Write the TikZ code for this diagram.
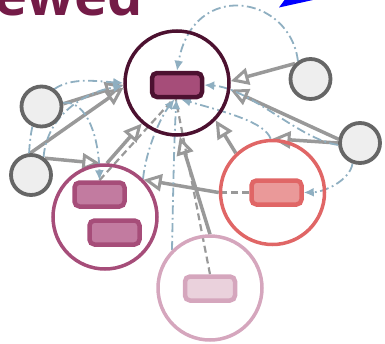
\documentclass[tikz,border=0pt]{standalone}
\usepackage{fontspec}
\newfontfamily\titlefont{Open Sans}
\usetikzlibrary{arrows.meta,backgrounds}
\definecolor{cZline}{HTML}{4C1130}
\definecolor{cZfill}{HTML}{A64D79}
\definecolor{cAline}{HTML}{A64D79}
\definecolor{cAfill}{HTML}{C27BA0}
\definecolor{cBline}{HTML}{E06666}
\definecolor{cBfill}{HTML}{EA9999}
\definecolor{cCline}{HTML}{D5A6BD}
\definecolor{cCfill}{HTML}{EAD1DC}
\definecolor{gfill}{HTML}{EEEEEE}
\definecolor{gline}{HTML}{666666}
\definecolor{agrey}{HTML}{999999}
\definecolor{bline}{HTML}{8FAFC1}
\definecolor{titlec}{HTML}{741B47}
\tikzset{
  smallc/.style={circle,draw=gline,fill=gfill,line width=3.8pt,minimum size=40pt,inner sep=0pt},
  bigc/.style={circle,line width=3.5pt,minimum size=104pt,inner sep=0pt},
  rbox/.style={rectangle,rounded corners=5pt,line width=4.5pt,minimum width=50pt,minimum height=24pt,inner sep=0pt},
  garrow/.style={draw=agrey,line width=3.5pt,-{Triangle[open,length=18pt,width=17pt,line width=3pt]}},
  gdash/.style={draw=agrey,line width=2.2pt,dash pattern=on 7pt off 4pt},
  bdd/.style={draw=bline,line width=1.8pt,dash pattern=on 9pt off 3.5pt on 1.8pt off 3.5pt,-{Latex[length=10pt,width=9pt]}}
}
\begin{document}
\begin{tikzpicture}[x=1pt,y=-1pt]
\useasboundingbox (0,0) rectangle (385,343);
% title
\node[anchor=base west,inner sep=0pt,text=titlec,font=\titlefont\bfseries\fontsize{56}{56}\selectfont] (title) at (-6,15.5) {ewed};
% blue arrow tip, cut off
\fill[blue] (279,7.5) -- (286,-2) -- (322,-2) -- cycle;
% big circles
\node[bigc,draw=cZline] (c0) at (177,83) {};
\node[bigc,draw=cAline] (c1) at (105,217) {};
\node[bigc,draw=cBline] (c2) at (272.5,192.5) {};
\node[bigc,draw=cCline] (c3) at (210,288) {};
% inner boxes
\node[rbox,draw=cZline,fill=cZfill] (c0r) at (177,85) {};
\node[rbox,draw=cAline,fill=cAfill] (c1ra) at (99.5,194.5) {};
\node[rbox,draw=cAline,fill=cAfill] (c1rb) at (114.5,232.5) {};
\node[rbox,draw=cBline,fill=cBfill] (c2r) at (276.5,192.5) {};
\node[rbox,draw=cCline,fill=cCfill] (c3r) at (210,288.5) {};
% small grey circles
\node[smallc] (g1) at (41.5,106.5) {};
\node[smallc] (g2) at (31,175) {};
\node[smallc] (g3) at (310.5,79) {};
\node[smallc] (g4) at (360,143) {};
\begin{pgfonlayer}{background}
% grey dashed (inside links)
\draw[gdash] (c2r.west) -- (c2.180);
\draw[gdash] (c3r.north) -- (c0r.-95);
\draw[gdash] (c1ra.north) -- (c0r.-105);
% grey arrows
\draw[garrow] (g1.7) -- (c0.182);
\draw[garrow] (g2.92) -- (c0.185);
\draw[garrow] (g2.50) -- (c1.95);
\draw[garrow] (c1.88) -- (c0.229);
\draw[garrow] (c3.90) -- (c0.273);
\draw[garrow] (c2.133) -- (c0.316);
\draw[garrow] (g3.135) -- (c0.2);
\draw[garrow] (g4.170) -- (c0.-7);
\draw[garrow] (g4.180) -- (c2.90);
\draw[garrow] (c2.180) -- (c1.44);
% blue dash-dot links
\draw[bdd] (g3.125) .. controls (290,-5) and (193,-21) .. (c0r.north);
\draw[bdd] (g4.250) .. controls (350,180) and (325,192) .. (c2r.east);
\draw[bdd] (c2.92) .. controls (265,122) and (225,112) .. (c0r.-75);
\draw[bdd] (g4.185) .. controls (300,140) and (250,88) .. (c0r.east);
\draw[bdd] (g2.95) .. controls (33,70) and (80,80) .. (c0.180);
\draw[bdd] (g2.55) .. controls (47,115) and (85,92) .. (c0.183);
\draw[bdd] (g1.10) .. controls (88,100) and (99,140) .. (c1ra.north);
\draw[bdd] (c1.45) .. controls (146,150) and (160,118) .. (c0r.-100);
\draw[bdd] (c3.135) .. controls (173,200) and (174,140) .. (c0r.-92);
\end{pgfonlayer}
\end{tikzpicture}
\end{document}
